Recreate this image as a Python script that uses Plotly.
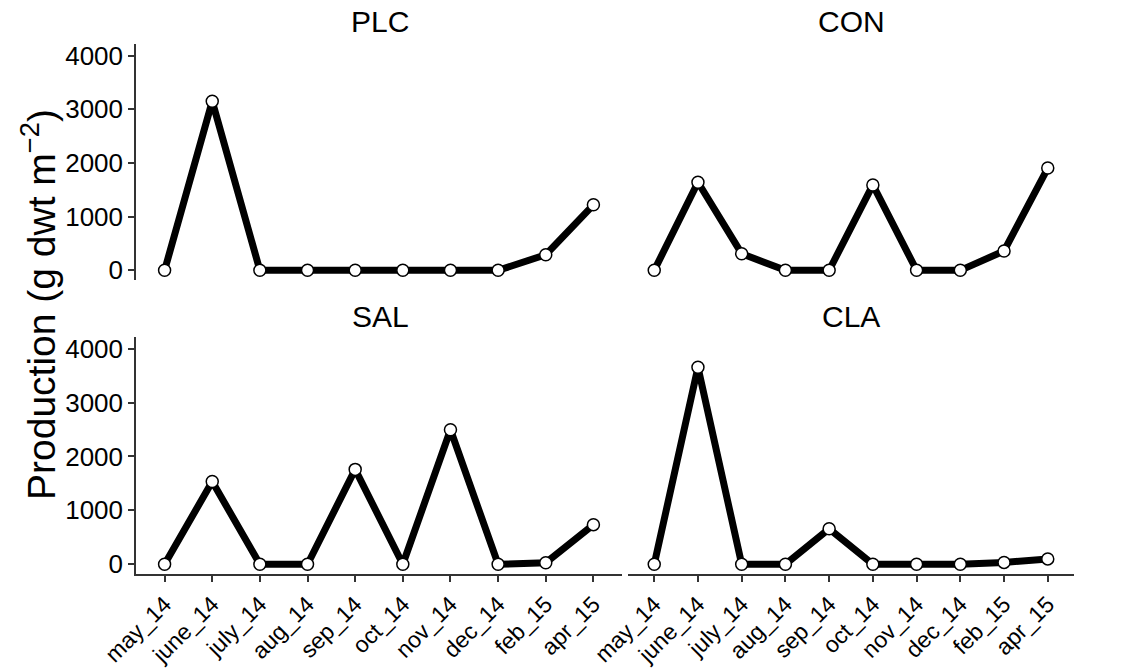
import plotly.graph_objects as go

months = ["may_14", "june_14", "july_14", "aug_14", "sep_14", "oct_14",
          "nov_14", "dec_14", "feb_15", "apr_15"]
plc = [0, 3150, 0, 0, 0, 0, 0, 0, 290, 1220]
con = [0, 1640, 310, 0, 0, 1590, 0, 0, 360, 1905]
sal = [0, 1535, 0, 0, 1760, 0, 2495, 0, 30, 735]
cla = [0, 3655, 0, 0, 660, 0, 0, 0, 35, 100]
y_ticks = [0, 1000, 2000, 3000, 4000]

W, H = 1134, 668
FONT = "Liberation Sans, Arial, sans-serif"

fig = go.Figure()
panels = [("PLC", plc, "x", "y"), ("CON", con, "x2", "y2"),
          ("SAL", sal, "x3", "y3"), ("CLA", cla, "x4", "y4")]
for name, vals, xa, ya in panels:
    fig.add_trace(go.Scatter(
        x=list(range(len(months))), y=vals, xaxis=xa, yaxis=ya,
        mode="lines+markers",
        line=dict(color="black", width=7),
        marker=dict(symbol="circle", size=12, color="white",
                    line=dict(color="black", width=1.5)),
        showlegend=False, cliponaxis=False, hoverinfo="skip"))

def px_x(a, b):
    return [a / W, b / W]

def px_y(top, bottom):
    return [1 - bottom / H, 1 - top / H]

xd_left = px_x(136, 622)
xd_right = px_x(628, 1074)
yd_top = px_y(44, 280)
yd_bot = px_y(337, 574)

yrange = [-180, 4215]
xrange = [-0.6, 9.6]

common_x = dict(range=xrange, tickmode="array", tickvals=list(range(10)),
                ticktext=months, showgrid=False, zeroline=False, automargin=False,
                tickfont=dict(family=FONT, size=23, color="black"))
common_y = dict(range=yrange, tickmode="array", tickvals=y_ticks,
                showgrid=False, zeroline=False, automargin=False,
                tickfont=dict(family=FONT, size=26, color="black"))

top_x = dict(common_x, showline=False, ticks="", showticklabels=False)
bot_x = dict(common_x, showline=True, linecolor="#333333", linewidth=1.5,
             ticks="outside", ticklen=6, tickcolor="#333333", tickwidth=1.5,
             tickangle=-45, showticklabels=True)
left_y = dict(common_y, showline=True, linecolor="#333333", linewidth=1.5,
              ticks="outside", ticklen=6, tickcolor="#333333", tickwidth=1.5,
              showticklabels=True)
right_y = dict(common_y, showline=False, ticks="", showticklabels=False)

fig.update_layout(
    width=W, height=H,
    margin=dict(l=0, r=0, t=0, b=0, pad=0, autoexpand=False),
    paper_bgcolor="white", plot_bgcolor="white",
    xaxis=dict(top_x, domain=xd_left, anchor="y"),
    yaxis=dict(left_y, domain=yd_top, anchor="x"),
    xaxis2=dict(top_x, domain=xd_right, anchor="y2"),
    yaxis2=dict(right_y, domain=yd_top, anchor="x2"),
    xaxis3=dict(bot_x, domain=xd_left, anchor="y3"),
    yaxis3=dict(left_y, domain=yd_bot, anchor="x3"),
    xaxis4=dict(bot_x, domain=xd_right, anchor="y4"),
    yaxis4=dict(right_y, domain=yd_bot, anchor="x4"),
)

titles = [("PLC", 380, 22), ("CON", 851, 22), ("SAL", 380, 316), ("CLA", 851, 316)]
for t, cx, cy in titles:
    fig.add_annotation(text=t, x=cx / W, y=1 - cy / H, xref="paper", yref="paper",
                       showarrow=False, xanchor="center", yanchor="middle",
                       font=dict(family=FONT, size=30, color="black"))

fig.add_annotation(text="Production (g dwt m<sup>\u22122</sup>)",
                   x=38 / W, y=1 - 305 / H, xref="paper", yref="paper",
                   showarrow=False, textangle=-90, xanchor="center", yanchor="middle",
                   font=dict(family=FONT, size=39, color="black"))

fig.write_html("out.html", config={"displayModeBar": False},
               post_script="document.body.style.margin='0';document.body.style.overflow='hidden';")
